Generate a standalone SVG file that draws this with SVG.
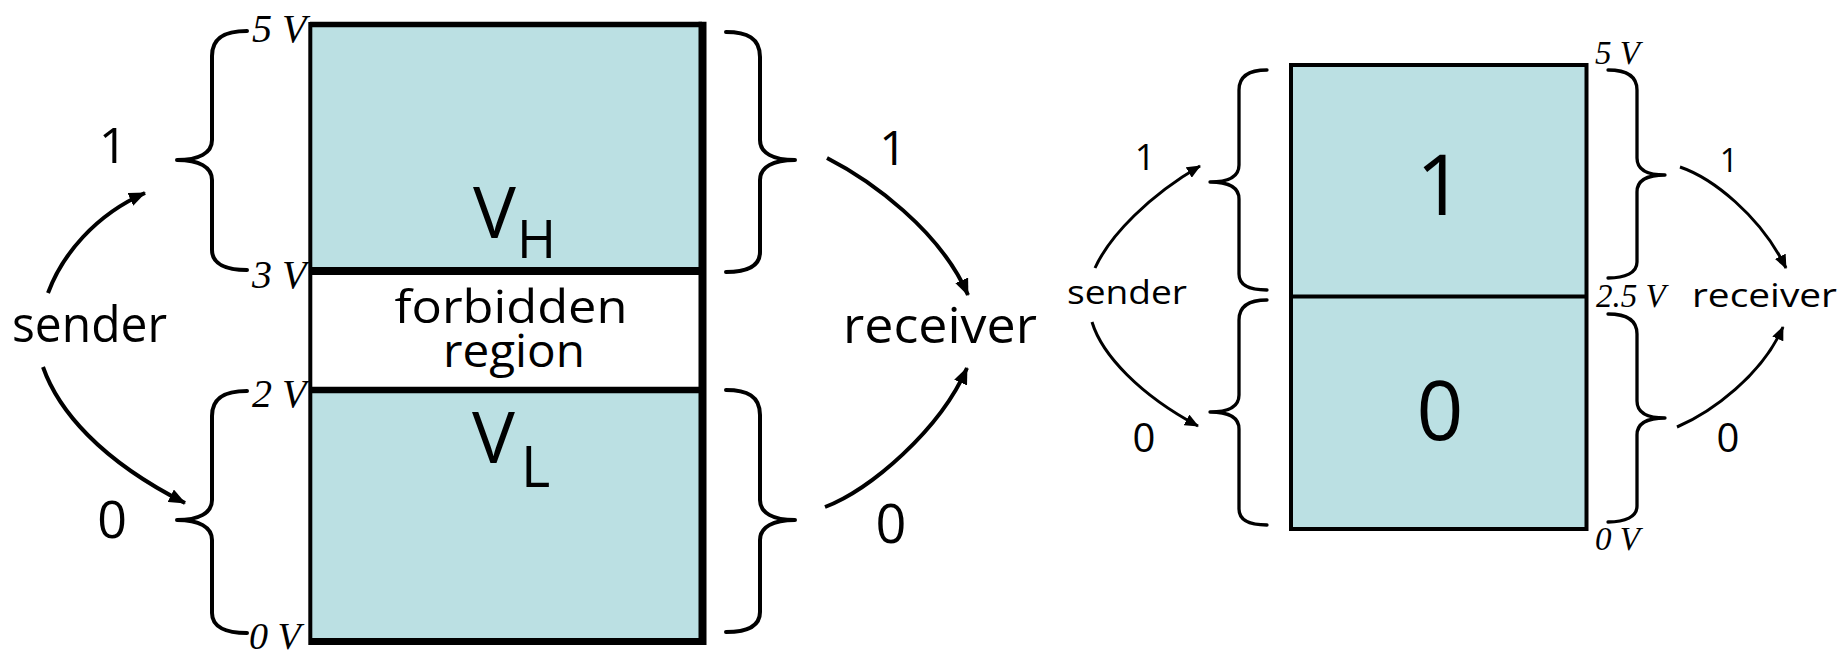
<svg xmlns="http://www.w3.org/2000/svg" width="1845" height="658" viewBox="0 0 1845 658">
  <style>
    .hand { font-family: "Open Sans", "DejaVu Sans", sans-serif; fill: #000; }
    .volt { font-family: "Liberation Serif", "Times New Roman", serif; font-style: italic; fill: #000; }
    .band { fill: #bbe0e3; }
    .edge { stroke: #000; fill: none; }
    .brace { stroke: #000; fill: none; stroke-width: 4; stroke-linecap: round; stroke-linejoin: round; }
    .brace-s { stroke: #000; fill: none; stroke-width: 3.3; stroke-linecap: round; stroke-linejoin: round; }
    .arrow { stroke: #000; fill: none; stroke-width: 4; marker-end: url(#head); }
    .arrow-s { stroke: #000; fill: none; stroke-width: 3; marker-end: url(#head-s); }
  </style>
  <defs>
    <marker id="head" markerUnits="userSpaceOnUse" markerWidth="18" markerHeight="14" refX="16" refY="7" orient="auto">
      <path d="M0,0 L17,7 L0,14 z" fill="#000"/>
    </marker>
    <marker id="head-s" markerUnits="userSpaceOnUse" markerWidth="15" markerHeight="12" refX="13" refY="6" orient="auto">
      <path d="M0,0 L14,6 L0,12 z" fill="#000"/>
    </marker>
  </defs>

  <rect x="0" y="0" width="1845" height="658" fill="#fff"/>

  <!-- Left scale: 0..5 V with forbidden band between 2 V and 3 V -->
  <g id="scale-left">
    <rect class="band" x="310" y="24.5" width="392" height="246.5"/>
    <rect x="310" y="271" width="392" height="119" fill="#fff"/>
    <rect class="band" x="310" y="390" width="392" height="251.5"/>
    <line class="edge" x1="310" y1="24.5" x2="702" y2="24.5" stroke-width="5.5"/>
    <line class="edge" x1="310" y1="271" x2="702" y2="271" stroke-width="8"/>
    <line class="edge" x1="310" y1="390" x2="702" y2="390" stroke-width="6.5"/>
    <line class="edge" x1="310" y1="641.5" x2="702" y2="641.5" stroke-width="7"/>
    <line class="edge" x1="310.3" y1="22" x2="310.3" y2="645" stroke-width="4"/>
    <line class="edge" x1="702.5" y1="21.7" x2="702.5" y2="645" stroke-width="8"/>
    <text class="hand" x="473" y="238" font-size="72">V</text>
    <text class="hand" x="517" y="258" font-size="53">H</text>
    <text class="hand" font-size="46" text-anchor="middle"><tspan x="511" y="323" textLength="233" lengthAdjust="spacingAndGlyphs">forbidden</tspan><tspan x="514" y="367" textLength="142" lengthAdjust="spacingAndGlyphs">region</tspan></text>
    <text class="hand" x="472" y="463" font-size="72">V</text>
    <text class="hand" x="521" y="487" font-size="56">L</text>
  </g>

  <g id="volts-left">
    <text class="volt" x="252" y="42" font-size="40">5 V</text>
    <text class="volt" x="252" y="288" font-size="40">3 V</text>
    <text class="volt" x="252" y="407" font-size="40">2 V</text>
    <text class="volt" x="249" y="649" font-size="38">0 V</text>
  </g>

  <g id="braces-left">
    <path class="brace" d="M247,31 C226,31 212,37 212,56 L212,140 C212,153 199,160 177,160 C199,160 212,167 212,180 L212,250 C212,264 226,270 247,270"/>
    <path class="brace" d="M247,391 C226,391 212,397 212,416 L212,500 C212,513 199,520 177,520 C199,520 212,527 212,540 L212,613 C212,627 226,633 247,633"/>
    <path class="brace" d="M726,32 C747,32 760,38 760,57 L760,140 C760,153 773,160 795,160 C773,160 760,167 760,180 L760,252 C760,266 747,272 726,272"/>
    <path class="brace" d="M726,390 C747,390 760,396 760,415 L760,500 C760,513 773,520 795,520 C773,520 760,527 760,540 L760,612 C760,626 747,632 726,632"/>
  </g>

  <g id="sender-left">
    <text class="hand" x="12" y="342" font-size="50" textLength="155" lengthAdjust="spacingAndGlyphs">sender</text>
    <text class="hand" x="113" y="163" font-size="50" text-anchor="middle">1</text>
    <text class="hand" x="112" y="538" font-size="52" text-anchor="middle">0</text>
  </g>

  <g id="receiver-left">
    <text class="hand" x="843" y="343" font-size="50" textLength="194" lengthAdjust="spacingAndGlyphs">receiver</text>
    <text class="hand" x="893" y="165" font-size="48" text-anchor="middle">1</text>
    <text class="hand" x="891" y="543" font-size="54" text-anchor="middle">0</text>
  </g>

  <!-- Right scale: single threshold at 2.5 V -->
  <g id="scale-right">
    <rect class="band" x="1291" y="65" width="295.5" height="464"/>
    <rect class="edge" x="1291" y="65" width="295.5" height="464" stroke-width="4"/>
    <line class="edge" x1="1291" y1="296.5" x2="1586.5" y2="296.5" stroke-width="4"/>
    <text class="hand" x="1440" y="215" font-size="84" text-anchor="middle">1</text>
    <text class="hand" x="1440" y="440" font-size="82" text-anchor="middle">0</text>
  </g>

  <g id="volts-right">
    <text class="volt" x="1595" y="64" font-size="33">5 V</text>
    <text class="volt" x="1596" y="307" font-size="33">2.5 V</text>
    <text class="volt" x="1595" y="550" font-size="33">0 V</text>
  </g>

  <g id="braces-right">
    <path class="brace-s" d="M1267,70 C1250,70 1239,75 1239,90 L1239,165 C1239,176 1229,182 1210,182 C1229,182 1239,188 1239,199 L1239,274 C1239,285 1250,290 1267,290"/>
    <path class="brace-s" d="M1267,300 C1250,300 1239,305 1239,320 L1239,395 C1239,406 1229,412 1210,412 C1229,412 1239,418 1239,429 L1239,509 C1239,520 1250,525 1267,525"/>
    <path class="brace-s" d="M1608,70 C1625,70 1637,75 1637,90 L1637,158 C1637,169 1646,175 1665,175 C1646,175 1637,181 1637,192 L1637,262 C1637,273 1625,278 1608,278"/>
    <path class="brace-s" d="M1608,314 C1625,314 1637,319 1637,334 L1637,401 C1637,412 1646,418 1665,418 C1646,418 1637,424 1637,435 L1637,506 C1637,517 1625,522 1608,522"/>
  </g>

  <g id="sender-right">
    <text class="hand" x="1067" y="304" font-size="32" textLength="120" lengthAdjust="spacingAndGlyphs">sender</text>
    <text class="hand" x="1145" y="170" font-size="36" text-anchor="middle">1</text>
    <text class="hand" x="1144" y="452" font-size="40" text-anchor="middle">0</text>
  </g>

  <g id="receiver-right">
    <text class="hand" x="1692" y="307" font-size="33" textLength="145" lengthAdjust="spacingAndGlyphs">receiver</text>
    <text class="hand" x="1729" y="172" font-size="32" text-anchor="middle">1</text>
    <text class="hand" x="1728" y="452" font-size="40" text-anchor="middle">0</text>
  </g>

  <!-- Connectors -->
  <g id="connectors">
    <path class="arrow" d="M48,293 C62,255 95,215 145,193"/>
    <path class="arrow" d="M43,367 C58,410 100,460 185,503"/>
    <path class="arrow" d="M827,158 C870,180 940,230 968,295"/>
    <path class="arrow" d="M825,507 C870,490 940,430 967,368"/>
    <path class="arrow-s" d="M1095,268 C1110,235 1150,195 1200,166"/>
    <path class="arrow-s" d="M1092,322 C1102,355 1140,395 1198,426"/>
    <path class="arrow-s" d="M1680,167 C1712,178 1760,215 1786,268"/>
    <path class="arrow-s" d="M1677,427 C1712,412 1762,375 1783,327"/>
  </g>
</svg>
